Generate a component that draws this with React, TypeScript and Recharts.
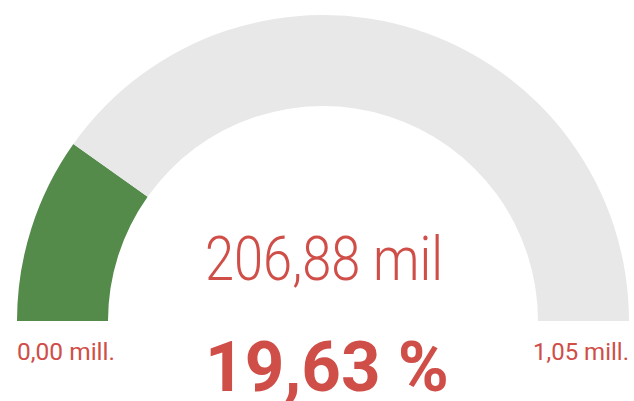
import { PieChart, Pie, Cell } from 'recharts';

// values in thousands
const gaugeValue = 206.88;
const gaugeMin = 0;
const gaugeMax = 1053.9;
const minLabel = '0,00 mill.';
const maxLabel = '1,05 mill.';
const valueLabel = '206,88 mil';
const sliceColors = ['#548A4A', '#E8E8E8'];

const RED = '#D04E48';
const FONT = 'Roboto, "Noto Sans", sans-serif';

export default function App() {
  const data = [
    { name: 'value', v: gaugeValue - gaugeMin },
    { name: 'rest', v: gaugeMax - gaugeValue },
  ];
  const pct = ((gaugeValue - gaugeMin) / (gaugeMax - gaugeMin)) * 100;
  const pctText = pct.toFixed(2).replace('.', ',') + ' %';

  return (
    <div style={{ position: 'fixed', left: 0, top: 0, width: 634, height: 401, background: '#fff' }}>
      <PieChart width={634} height={401} margin={{ top: 0, right: 0, bottom: 0, left: 0 }}>
        <Pie
          data={data}
          dataKey="v"
          cx={323}
          cy={321}
          innerRadius={215}
          outerRadius={306}
          startAngle={180}
          endAngle={0}
          stroke="none"
          isAnimationActive={false}
        >
          {data.map((d, i) => (
            <Cell key={d.name} fill={sliceColors[i]} />
          ))}
        </Pie>
      </PieChart>
      <svg width={634} height={401} style={{ position: 'absolute', left: 0, top: 0 }}>
        <text x={324} y={280} fill={RED} fontFamily={FONT} fontWeight={300} fontSize={62}
          textAnchor="middle" textLength={238} lengthAdjust="spacingAndGlyphs">
          {valueLabel}
        </text>
        <text x={327} y={391} fill={RED} fontFamily={FONT} fontWeight={700} fontSize={70}
          textAnchor="middle" textLength={244} lengthAdjust="spacingAndGlyphs">
          {pctText}
        </text>
        <text x={17} y={360} fill={RED} fontFamily={FONT} fontSize={23}
          textLength={98} lengthAdjust="spacingAndGlyphs">
          {minLabel}
        </text>
        <text x={629} y={360} fill={RED} fontFamily={FONT} fontSize={23}
          textAnchor="end" textLength={96} lengthAdjust="spacingAndGlyphs">
          {maxLabel}
        </text>
      </svg>
    </div>
  );
}
